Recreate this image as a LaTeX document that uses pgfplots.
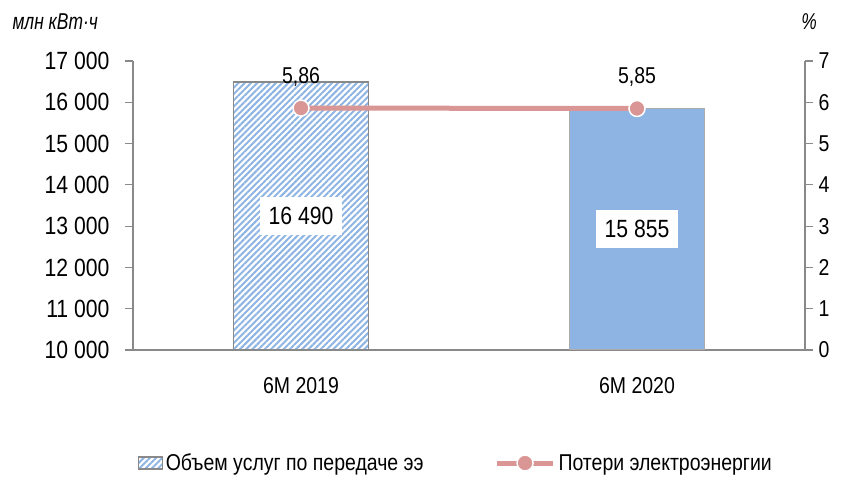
\documentclass[border=0pt]{standalone}
\usepackage{fontspec}
\setmainfont{Liberation Sans}[FakeStretch=0.85]
\newfontfamily\narrowfont{Liberation Sans}[FakeStretch=0.76]
\usepackage{pgfplots}
\pgfplotsset{compat=1.18}
\usetikzlibrary{patterns.meta}
\definecolor{barblue}{HTML}{8DB4E2}
\definecolor{losspink}{HTML}{D99694}
\definecolor{axisgray}{HTML}{898989}
\newcommand{\chartfont}{\fontsize{23}{27}\selectfont}
\newcommand{\bigfont}{\fontsize{25}{29}\selectfont}

\pgfplotsset{
  base/.style={
    scale only axis, width=672bp, height=289bp,
    xmin=-0.5, xmax=1.5,
    font=\chartfont,
    tick label style={font=\chartfont},
    /pgf/number format/assume math mode=true,
    tick align=outside, major tick length=8bp,
    axis line style={axisgray, line width=1.5bp},
    every tick/.style={axisgray, line width=1.2bp},
  },
  patchlegend/.style={legend image code/.code={\draw[##1] (-4bp,-6bp) rectangle (20bp,6bp);}},
  dotlegend/.style={legend image code/.code={\draw[mark repeat=2,mark phase=2,##1] plot coordinates {(0bp,0bp)(28bp,0bp)(56bp,0bp)};}},
}

\begin{document}
\begin{tikzpicture}
% bars, left axis
\begin{axis}[base,
  ymin=10000, ymax=17000, ytick distance=1000,
  scaled y ticks=false,
  axis y line*=left, axis x line*=bottom,
  xtick={0,1}, xticklabels={6M 2019, 6M 2020},
  x tick style={draw=none},
  yticklabel style={xshift=-12bp, font=\bigfont},
  xticklabel style={yshift=-16bp},
  /pgf/number format/1000 sep={\ },
]
\addplot[ybar, bar width=0.4, bar shift=0pt, draw=axisgray, line width=1.2bp,
  pattern={Lines[angle=45,distance=4.4bp,line width=2bp]}, pattern color=barblue]
  coordinates {(0,16490)};
\addplot[ybar, bar width=0.4, bar shift=0pt, fill=barblue, draw=axisgray!70, line width=1bp]
  coordinates {(1,15855)};
\addplot[draw=none, nodes near coords, point meta=explicit symbolic,
  nodes near coords style={anchor=center, fill=white, text=black,
    inner xsep=9bp, inner ysep=10bp, font=\bigfont}]
  coordinates {(0,13245) [16 490] (1,12927.5) [15 855]};
\end{axis}
% line, right axis
\begin{axis}[base,
  ymin=0, ymax=7, ytick distance=1,
  axis y line*=right, axis x line=none,
  clip=false,
  yticklabel style={xshift=2bp},
  legend columns=2,
  legend style={at={(0.481,-0.391)}, anchor=center, draw=none, fill=none,
    font=\chartfont,
    nodes={inner sep=3bp},
    /tikz/every even column/.append style={column sep=68bp}},
]
\addlegendimage{patchlegend, draw=axisgray, line width=1.2bp,
  pattern={Lines[angle=45,distance=4.4bp,line width=2bp]}, pattern color=barblue}
\addlegendentry{Объем услуг по передаче ээ}
\addplot[dotlegend, losspink, line width=5bp, mark=*, mark size=8bp,
  mark options={fill=losspink, draw=white, line width=1.5bp},
  nodes near coords, point meta=explicit symbolic,
  every node near coord/.style={anchor=base, yshift=25bp, text=black, font=\chartfont}]
  coordinates {(0,5.86) [5,86] (1,5.85) [5,85]};
\addlegendentry{Потери электроэнергии}
\node[anchor=west, font=\chartfont\narrowfont\itshape] at ([xshift=-124bp,yshift=39bp]rel axis cs:0,1) {млн кВт·ч};
\node[anchor=center, font=\chartfont\narrowfont\itshape] at ([xshift=4bp,yshift=39bp]rel axis cs:1,1) {\%};
\path ([xshift=-133bp,yshift=-125bp]rel axis cs:0,0) rectangle ([xshift=36bp,yshift=61bp]rel axis cs:1,1);
\end{axis}
\end{tikzpicture}
\end{document}
